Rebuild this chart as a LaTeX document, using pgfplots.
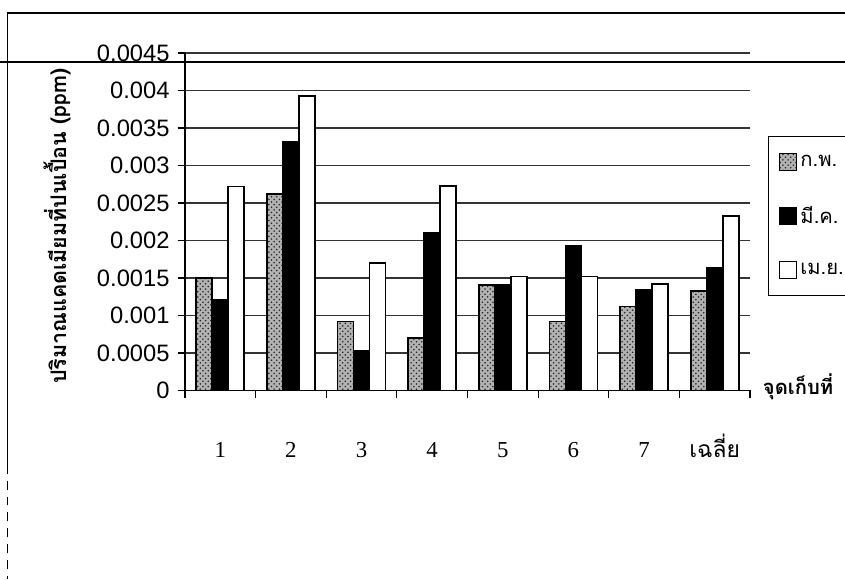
\documentclass[border=0pt]{standalone}
\usepackage{fontspec}
\usepackage{pgfplots}
\usepackage{pgfplotstable}
\pgfplotsset{compat=1.18}
\usetikzlibrary{patterns}
\setmainfont{Liberation Serif}
\newfontfamily\thaifont[Script=Thai]{Loma}
\newfontfamily\arialfont{Liberation Sans}

% cadmium contamination (ppm) per sampling point and month
\pgfplotstableread{
x   feb      mar      apr
0   0.00150  0.00121  0.00272
1   0.00262  0.00331  0.00393
2   0.00092  0.00053  0.00170
3   0.00070  0.00210  0.00273
4   0.00141  0.00141  0.00152
5   0.00092  0.00193  0.00152
6   0.00112  0.00134  0.00142
7   0.00133  0.00164  0.00233
}\cadmium

\begin{document}
\begin{tikzpicture}
\path[use as bounding box] (0,0) rectangle (16.9cm,11.58cm);

\begin{axis}[
  at={(3.70cm,3.77cm)}, anchor=south west,
  scale only axis,
  width=11.30cm, height=6.75cm,
  ybar=0pt, bar width=0.32cm,
  xmin=-0.5, xmax=7.5,
  ymin=0, ymax=0.0045,
  axis x line=bottom, axis y line=left,
  axis line style={-, line width=0.8pt},
  tick align=outside,
  major tick length=0.15cm,
  tick style={black, line width=0.6pt},
  xtick={-0.5,0.5,1.5,2.5,3.5,4.5,5.5,6.5,7.5},
  xticklabels={},
  extra x ticks={0,1,2,3,4,5,6,7},
  extra x tick labels={1,2,3,4,5,6,7,{\thaifont เฉลี่ย}},
  extra x tick style={major tick length=0pt, grid=none,
    xticklabel style={anchor=base, yshift=-1.33cm,
      font=\fontsize{13}{15}\selectfont}},
  ytick={0,0.0005,0.001,0.0015,0.002,0.0025,0.003,0.0035,0.004,0.0045},
  scaled y ticks=false,
  yticklabel style={font=\arialfont\fontsize{13.5}{16}\selectfont,
    /pgf/number format/fixed, /pgf/number format/precision=4,
    /pgf/number format/assume math mode=true, xshift=-1pt},
  ymajorgrids,
  major grid style={black!80, line width=0.6pt},
  ylabel={\thaifont\bfseries ปริมาณแคดเมียมที่ปนเปื้อน (ppm)},
  ylabel style={at={(axis description cs:-0.2265,0.487)}, anchor=center,
    font=\fontsize{12.2}{15}\selectfont},
  xlabel={\thaifont\bfseries จุดเก็บที่},
  xlabel style={at={(axis description cs:1.012,0.0)}, anchor=west,
    font=\fontsize{11.5}{14}\selectfont, yshift=2pt},
  legend style={at={(axis description cs:1.0319,0.754)}, anchor=north west,
    draw=black, line width=0.6pt,
    font=\thaifont\fontsize{11.5}{14}\selectfont,
    row sep=0.6cm, inner xsep=0.2cm, inner ysep=0.3cm,
    /tikz/every even column/.append style={column sep=0.1cm}},
  legend cell align=left,
  legend image code/.code={\draw[#1, line width=0.8pt]
    (0cm,-0.17cm) rectangle (0.34cm,0.17cm);},
  every axis plot/.append style={draw=black, line width=1pt},
]
\addplot[fill=black!30, postaction={pattern=crosshatch dots, pattern color=black!85}]
  table[x=x, y=feb] {\cadmium};
\addplot[fill=black] table[x=x, y=mar] {\cadmium};
\addplot[fill=white] table[x=x, y=apr] {\cadmium};
\legend{ก.พ.\hspace*{0.8cm}, มี.ค.\hspace*{0.8cm}, เม.ย.\hspace*{0.8cm}}
\end{axis}

% page frame around the chart
\draw[line width=1.1pt] (0.14cm,11.32cm) -- (17cm,11.32cm);
\draw[line width=1.3pt] (0cm,10.34cm) -- (17cm,10.34cm);
\draw[line width=1.1pt] (0.15cm,11.32cm) -- (0.15cm,2.28cm);
\draw[line width=1.1pt, dash pattern=on 5pt off 4pt] (0.15cm,2.28cm) -- (0.15cm,0cm);
\end{tikzpicture}
\end{document}
